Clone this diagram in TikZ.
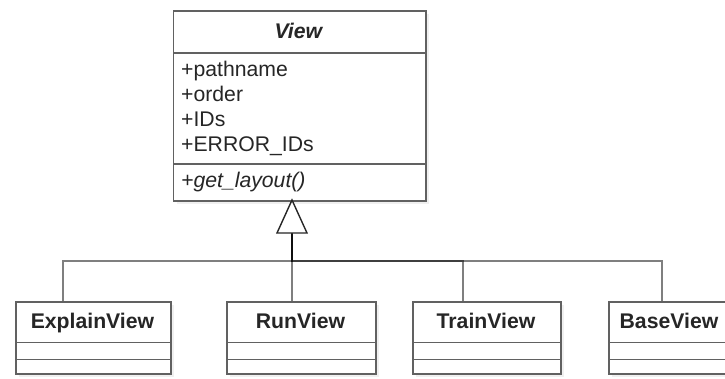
\documentclass[tikz,border=0pt]{standalone}
\usepackage{fontspec}
\setmainfont{Liberation Sans}
\begin{document}
\begin{tikzpicture}[x=1pt,y=-1pt,
  umlfont/.style={font=\fontsize{21.2}{25}\selectfont, text=black!85, inner sep=0pt},
  compart/.style={draw=black!62, line width=1.5pt, fill=white, inner sep=0pt, anchor=north west},
  shade/.style={fill=black!6, draw=none},
  link/.style={draw=black, line width=1.4pt, opacity=0.5},
  hollow/.style={draw=black!85, line width=1.4pt, fill=white, line join=miter}
]
\useasboundingbox (0,0) rectangle (725,378);
\clip (0,0) rectangle (725,378);

% soft shadows behind the classes
\fill[shade] (177,14) rectangle (429,204);
\foreach \l/\r in {15/170, 226/375, 412/560, 608/730}
  \fill[shade] (\l+4,305) rectangle (\r+4,377);

% abstract class View
\node[compart, minimum width=252.3pt, minimum height=42pt] (viewhead) at (172.7,10) {};
\node[compart, minimum width=252.3pt, minimum height=111pt] (viewattr) at (172.7,52) {};
\node[compart, minimum width=252.3pt, minimum height=37pt] (viewops) at (172.7,163) {};
\node[umlfont, anchor=base] (viewname) at (298.9,38) {\textbf{\textit{View}}};
\node[umlfont, anchor=base west] (a1) at (181,76) {+pathname};
\node[umlfont, anchor=base west] (a2) at (181,101) {+order};
\node[umlfont, anchor=base west] (a3) at (181,126) {+IDs};
\node[umlfont, anchor=base west] (a4) at (181,151) {+ERROR\_IDs};
\node[umlfont, anchor=base west] (m1) at (181,187) {\textit{+get\_layout()}};

% subclasses
\foreach \n/\l/\r/\t in {explain/15/170/ExplainView, run/226/375/RunView, train/412/560/TrainView, base/608/730/BaseView}{
  \node[compart, minimum width=\r pt-\l pt, minimum height=40.5pt] (\n) at (\l,301) {};
  \node[compart, minimum width=\r pt-\l pt, minimum height=17pt] (\n attr) at (\l,341.5) {};
  \node[compart, minimum width=\r pt-\l pt, minimum height=14.5pt] (\n ops) at (\l,358.5) {};
  \node[umlfont, anchor=base] (\n name) at ({(\l+\r)/2},328) {\textbf{\t}};
}

% generalization connectors meeting at the hollow triangle
\coordinate (tribase) at (292,233);
\coordinate (busy) at (292,261);
\coordinate (ex) at (63,0);
\coordinate (rn) at (292,0);
\coordinate (tr) at (463,0);
\coordinate (bs) at (662,0);
\draw[link] (explain.north -| ex) |- (busy) -- (tribase);
\draw[link] (run.north -| rn) -- (tribase);
\draw[link] (train.north -| tr) |- (busy) -- (tribase);
\draw[link] (base.north -| bs) |- (busy) -- (tribase);
\draw[hollow] (292,200) -- (277,233) -- (307,233) -- cycle;
\end{tikzpicture}
\end{document}
